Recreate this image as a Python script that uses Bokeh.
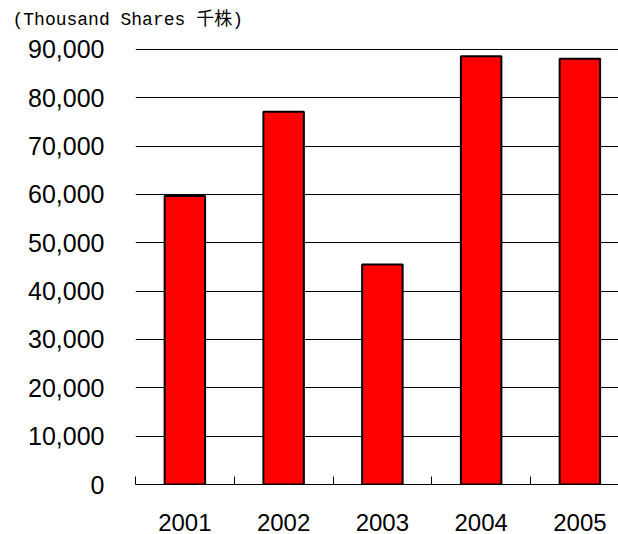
from bokeh.plotting import figure
from bokeh.models import Range1d, FixedTicker, NumeralTickFormatter
from bokeh.embed import file_html
from bokeh.resources import INLINE

years = ["2001", "2002", "2003", "2004", "2005"]
shares = [59700, 77100, 45500, 88600, 88100]
y_ticks = [0, 10000, 20000, 30000, 40000, 50000, 60000, 70000, 80000, 90000]
unit_label = "(Thousand Shares 千株)"

xs = [i + 0.5 for i in range(len(years))]

p = figure(width=618, height=534, output_backend="svg", toolbar_location=None,
           x_range=Range1d(0, 4.891), y_range=Range1d(0, 93930),
           min_border_left=135, min_border_right=0, min_border_top=30, min_border_bottom=50)
p.outline_line_color = None
p.background_fill_color = "white"
p.border_fill_color = "white"

p.vbar(x=xs, top=shares, width=0.41, bottom=0, fill_color="#ff0000",
       line_color="black", line_width=2)

# unit label as title
p.title.text = unit_label
p.title.align = "left"
p.title.vertical_align = "bottom"
p.title.offset = -123
p.title.standoff = 2
p.title.text_font = "'Liberation Mono', 'Noto Sans CJK JP'"
p.title.text_font_size = "18px"
p.title.text_font_style = "normal"
p.title.text_color = "black"

# y axis
p.yaxis.ticker = FixedTicker(ticks=y_ticks)
p.yaxis.formatter = NumeralTickFormatter(format="0,0")
p.yaxis.axis_line_color = None
p.yaxis.major_tick_line_color = None
p.yaxis.major_tick_in = 0
p.yaxis.major_tick_out = 0
p.yaxis.minor_tick_line_color = None
p.yaxis.minor_tick_in = 0
p.yaxis.minor_tick_out = 0
p.yaxis.major_label_standoff = 31
p.yaxis.major_label_text_font = "Liberation Sans"
p.yaxis.major_label_text_font_size = "25px"
p.yaxis.major_label_text_color = "black"

p.ygrid.ticker = FixedTicker(ticks=y_ticks)
p.ygrid.grid_line_color = "black"
p.ygrid.grid_line_width = 1
p.xgrid.grid_line_color = None

# x axis
p.xaxis.ticker = FixedTicker(ticks=xs, minor_ticks=list(range(len(years))))
p.xaxis.major_label_overrides = {x: y for x, y in zip(xs, years)}
p.xaxis.axis_line_color = "black"
p.xaxis.axis_line_width = 1
p.xaxis.major_tick_line_color = None
p.xaxis.major_tick_in = 0
p.xaxis.major_tick_out = 0
p.xaxis.minor_tick_line_color = "black"
p.xaxis.minor_tick_in = 8
p.xaxis.minor_tick_out = 0
p.xaxis.major_label_standoff = 29
p.xaxis.major_label_text_font = "Liberation Sans"
p.xaxis.major_label_text_font_size = "24px"
p.xaxis.major_label_text_color = "black"

open("out.html", "w").write(file_html(p, INLINE))
